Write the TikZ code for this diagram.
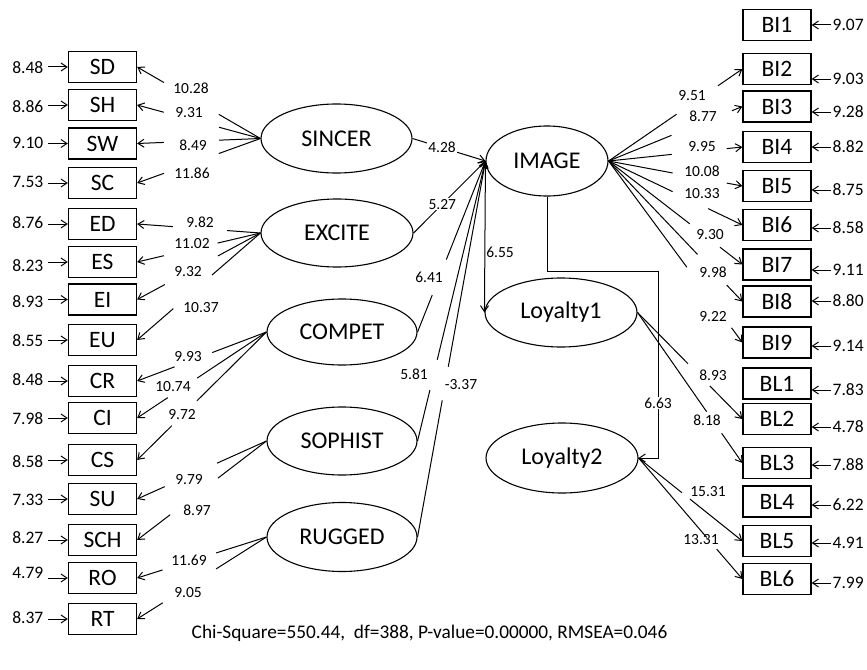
\documentclass[tikz,border=0pt]{standalone}
\usepackage{fontspec}
\setmainfont{Carlito}
\usetikzlibrary{arrows.meta,shapes.geometric,calc}
\begin{document}
\begin{tikzpicture}[x=1pt,y=-1pt,
  box/.style={draw, line width=1.3pt, minimum width=68pt, minimum height=31pt, inner sep=0pt, font=\fontsize{23.5}{23.5}\selectfont},
  lat/.style={draw, ellipse, line width=1.1pt, inner sep=0pt, font=\fontsize{24}{24}\selectfont},
  coef/.style={inner sep=1pt, font=\fontsize{15.5}{15.5}\selectfont},
  err/.style={inner sep=1.5pt, font=\fontsize{17.5}{17.5}\selectfont},
  arr/.style={line width=1pt, -{Straight Barb[length=6pt,width=8pt]}},
  gp/.style 2 args={pos=#1, sloped, fill=white, inner sep=0pt, minimum height=3pt, minimum width=#2, draw=none},
]
\useasboundingbox (0,0) rectangle (867,669);

% ---------- left indicator boxes ----------
\foreach \n/\y in {SD/67,SH/105,SW/143.5,SC/183,ED/224,ES/262,EI/299.5,EU/340,CR/381,CI/418,CS/460,SU/499,SCH/540,RO/578,RT/619}
  \node[box] (\n) at (102.5,\y) {\n};

% ---------- right indicator boxes ----------
\foreach \n/\y in {BI1/25,BI2/69,BI3/106.5,BI4/147,BI5/186,BI6/225,BI7/264.5,BI8/301.5,BI9/342.5,BL1/383.5,BL2/419,BL3/463,BL4/501.5,BL5/541,BL6/579}
  \node[box] (\n) at (777,\y) {\n};

% ---------- latent variables ----------
\node[lat, minimum width=151pt, minimum height=69pt] (SINCER) at (336.5,138.5) {SINCER};
\node[lat, minimum width=152pt, minimum height=68pt] (EXCITE) at (337,233) {EXCITE};
\node[lat, minimum width=150pt, minimum height=66pt] (COMPET) at (342,332) {COMPET};
\node[lat, minimum width=150pt, minimum height=68pt] (SOPHIST) at (342,441) {SOPHIST};
\node[lat, minimum width=150pt, minimum height=69pt] (RUGGED) at (342,537) {RUGGED};
\node[lat, minimum width=122pt, minimum height=70pt] (IMAGE) at (547,161) {IMAGE};
\node[lat, minimum width=152pt, minimum height=69pt] (Loyalty1) at (561,312.5) {Loyalty1};
\node[lat, minimum width=152pt, minimum height=70pt] (Loyalty2) at (562,458) {Loyalty2};

% ---------- left error terms ----------
\foreach \n/\v/\y in {SD/8.48/68,SH/8.86/107,SW/9.10/143,SC/7.53/182,ED/8.76/223,ES/8.23/266,EI/8.93/302,EU/8.55/341,CR/8.48/380,CI/7.98/419,CS/8.58/462,SU/7.33/500,SCH/8.27/538,RO/4.79/573,RT/8.37/618}{
  \node[err, anchor=east] (e\n) at (45,\y) {\v};
  \draw[arr] ([xshift=3pt]e\n.east |- \n.west) -- (\n.west);
}

% ---------- right error terms ----------
\foreach \n/\v/\y in {BI1/9.07/25,BI2/9.03/79,BI3/9.28/112,BI4/8.82/147,BI5/8.75/190,BI6/8.58/228,BI7/9.11/270,BI8/8.80/301,BI9/9.14/346,BL1/7.83/390,BL2/4.78/427,BL3/7.88/465,BL4/6.22/505,BL5/4.91/543,BL6/7.99/583}{
  \node[err, anchor=west] (e\n) at (831,\y) {\v};
  \draw[arr] (e\n.west) -- (e\n.west -| \n.east);
}

% ---------- loadings: SINCER ----------
\draw[arr] (SINCER.west) -- node[gp={0.56}{63}] (g1) {} (SD.east);
\draw[arr] (SINCER.west) -- node[gp={0.56}{57}] (g2) {} (SH.east);
\draw[arr] (SINCER.west) -- node[gp={0.56}{55}] (g3) {} (SW.east);
\draw[arr] (SINCER.west) -- node[gp={0.56}{58}] (g4) {} (SC.east);
% ---------- EXCITE ----------
\draw[arr] (EXCITE.west) -- node[gp={0.49}{54}] (g5) {} (ED.east);
\draw[arr] (EXCITE.west) -- node[gp={0.565}{55}] (g6) {} (ES.east);
\draw[arr] (EXCITE.west) -- node[gp={0.56}{60}] (g7) {} (EI.east);
\draw[arr] (EXCITE.west) -- node[gp={0.55}{51}] (g8) {} (EU.east);
% ---------- COMPET ----------
\draw[arr] (COMPET.west) -- node[gp={0.565}{40}] (g9) {} (CR.east);
\draw[arr] (COMPET.west) -- node[gp={0.65}{35}] (g10) {} (CI.east);
\draw[arr] (COMPET.west) -- node[gp={0.635}{35}] (g11) {} (CS.east);
% ---------- SOPHIST ----------
\draw[arr] (SOPHIST.west) -- node[gp={0.585}{57}] (g12) {} (SU.east);
\draw[arr] (SOPHIST.west) -- node[gp={0.56}{60}] (g13) {} (SCH.east);
% ---------- RUGGED ----------
\draw[arr] (RUGGED.west) -- node[gp={0.596}{56}] (g14) {} (RO.east);
\draw[arr] (RUGGED.west) -- node[gp={0.596}{63}] (g15) {} (RT.east);

% ---------- structural paths to IMAGE ----------
\draw[arr] (SINCER.east) -- node[coef, fill=white, pos=0.405] (c1) {4.28} (IMAGE.west);
\draw[arr] (EXCITE.east) -- node[coef, fill=white, pos=0.40] (c2) {5.27} (IMAGE.west);
\draw[arr] (COMPET.east) -- node[gp={0.32}{38}] (g16) {} (IMAGE.west);
\draw[arr] (SOPHIST.east) -- node[gp={0.236}{31}] (g17) {} (IMAGE.west);
\draw[arr] (RUGGED.east) -- node[gp={0.408}{34}] (g18) {} (IMAGE.west);

% ---------- IMAGE to loyalty ----------
\draw[arr] (IMAGE.west) -- node[coef, right, pos=0.6] (c3) {6.55} (Loyalty1.west);
\coordinate (elbow) at (658,271);
\draw[arr] (IMAGE.south) |- (elbow) |- node[coef, fill=white, pos=0.353] (c4) {6.63} (Loyalty2.east);

% ---------- IMAGE indicators ----------
\draw[arr] (IMAGE.east) -- node[gp={0.663}{50}] (g19) {} (BI2.west);
\draw[arr] (IMAGE.east) -- node[gp={0.696}{65}] (g20) {} (BI3.west);
\draw[arr] (IMAGE.east) -- node[gp={0.678}{55}] (g21) {} (BI4.west);
\draw[arr] (IMAGE.east) -- node[gp={0.681}{55}] (g22) {} (BI5.west);
\draw[arr] (IMAGE.east) -- node[gp={0.611}{39}] (g23) {} (BI6.west);
\draw[arr] (IMAGE.east) -- node[gp={0.72}{38}] (g24) {} (BI7.west);
\draw[arr] (IMAGE.east) -- node[gp={0.774}{42}] (g25) {} (BI8.west);
\draw[arr] (IMAGE.east) -- node[gp={0.752}{75}] (g26) {} (BI9.west);

% ---------- loyalty indicators ----------
\draw[arr] (Loyalty1.east) -- node[gp={0.585}{31}] (g27) {} (BL2.west);
\draw[arr] (Loyalty1.east) -- node[gp={0.731}{26}] (g28) {} (BL3.west);
\draw[arr] (Loyalty2.east) -- node[gp={0.457}{10}] (g29) {} (BL5.west);
\draw[arr] (Loyalty2.east) -- node[gp={0.705}{15}] (g30) {} (BL6.west);

% ---------- coefficient labels ----------
\foreach \v/\x/\y [count=\i] in {10.28/191/88, 9.31/189/113, 8.49/193/145, 11.86/192/173,
  9.82/200/222, 11.02/192/244, 9.32/188/272, 10.37/201/308,
  9.93/188/357, 10.74/173/387, 9.72/182/415, 9.79/189/480, 8.97/197/510, 11.69/189/560, 9.05/188/593,
  6.41/429/277, 5.81/414/374, -3.37/461/385,
  9.51/692/96, 8.77/703/116, 9.95/702/147, 10.08/702/171, 10.33/702/194, 9.30/710/235, 9.98/713/272, 9.22/713/317,
  8.93/713/375, 8.18/707/420, 15.31/708/492, 13.31/701/540}
  \node[coef] (k\i) at (\x,\y) {\v};

% ---------- fit statistics ----------
\node[font=\fontsize{19.3}{19.3}\selectfont] (fit) at (429.5,633) {Chi-Square=550.44,\ \ df=388, P-value=0.00000, RMSEA=0.046};
\end{tikzpicture}
\end{document}
